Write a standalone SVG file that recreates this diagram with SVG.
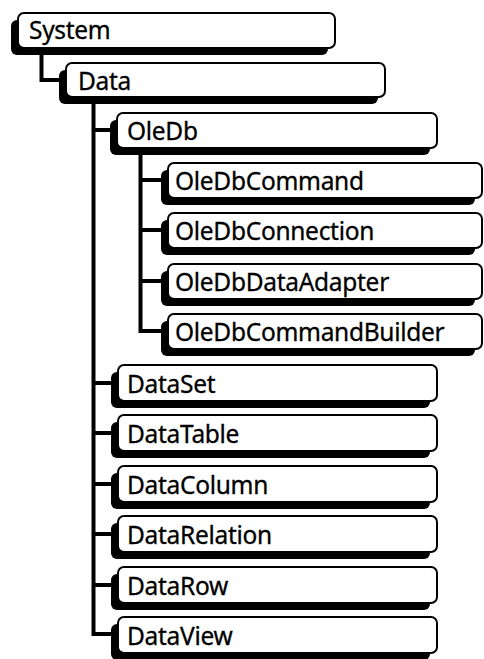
<svg xmlns="http://www.w3.org/2000/svg" width="484" height="659" viewBox="0 0 484 659">
  <style>
    .shadow { fill: #000; }
    .box { fill: #fff; stroke: #000; stroke-width: 2; }
    .label { font-family: "Noto Sans", "DejaVu Sans", sans-serif; font-size: 24.5px; letter-spacing: -0.3px; fill: #000; stroke: #000; stroke-width: 0.3; }
    .wire { fill: none; stroke: #000; stroke-width: 4; stroke-linejoin: miter; stroke-linecap: square; }
  </style>

  <rect width="484" height="659" fill="#fff"/>

  <!-- tree connectors -->
  <g id="connectors">
    <path class="wire" d="M41.5 48 V80 H64"/>
    <path class="wire" d="M93.5 97 V634 M93.5 130 H115 M93.5 383 H116 M93.5 433 H116 M93.5 484 H116 M93.5 534 H116 M93.5 585 H116 M93.5 634 H116"/>
    <path class="wire" d="M140.5 148 V331 M140.5 180 H166 M140.5 230 H166 M140.5 281 H166 M140.5 331 H166"/>
  </g>

  <g id="system">
    <rect class="shadow" x="11" y="20" width="317" height="35" rx="6"/>
    <rect class="box" x="18" y="13" width="317" height="35" rx="6"/>
    <text class="label" x="29" y="39">System</text>
  </g>
  <g id="data">
    <rect class="shadow" x="59" y="70" width="319" height="34" rx="6"/>
    <rect class="box" x="66" y="63" width="319" height="34" rx="6"/>
    <text class="label" x="78" y="90">Data</text>
  </g>
  <g id="oledb">
    <rect class="shadow" x="110" y="120" width="320" height="35" rx="6"/>
    <rect class="box" x="117" y="113" width="320" height="35" rx="6"/>
    <text class="label" x="127" y="140">OleDb</text>
  </g>
  <g id="oledbcommand">
    <rect class="shadow" x="161" y="170" width="314" height="35" rx="6"/>
    <rect class="box" x="168" y="163" width="314" height="35" rx="6"/>
    <text class="label" x="175" y="190">OleDbCommand</text>
  </g>
  <g id="oledbconnection">
    <rect class="shadow" x="161" y="220" width="314" height="35" rx="6"/>
    <rect class="box" x="168" y="213" width="314" height="35" rx="6"/>
    <text class="label" x="175" y="240">OleDbConnection</text>
  </g>
  <g id="oledbdataadapter">
    <rect class="shadow" x="161" y="271" width="314" height="35" rx="6"/>
    <rect class="box" x="168" y="264" width="314" height="35" rx="6"/>
    <text class="label" x="175" y="291">OleDbDataAdapter</text>
  </g>
  <g id="oledbcommandbuilder">
    <rect class="shadow" x="161" y="321" width="314" height="35" rx="6"/>
    <rect class="box" x="168" y="314" width="314" height="35" rx="6"/>
    <text class="label" x="175" y="341">OleDbCommandBuilder</text>
  </g>
  <g id="dataset">
    <rect class="shadow" x="111" y="372" width="319" height="36" rx="6"/>
    <rect class="box" x="118" y="365" width="319" height="36" rx="6"/>
    <text class="label" x="127" y="392.5">DataSet</text>
  </g>
  <g id="datatable">
    <rect class="shadow" x="111" y="422" width="319" height="36" rx="6"/>
    <rect class="box" x="118" y="415" width="319" height="36" rx="6"/>
    <text class="label" x="127" y="442.5">DataTable</text>
  </g>
  <g id="datacolumn">
    <rect class="shadow" x="111" y="473" width="319" height="36" rx="6"/>
    <rect class="box" x="118" y="466" width="319" height="36" rx="6"/>
    <text class="label" x="127" y="493.5">DataColumn</text>
  </g>
  <g id="datarelation">
    <rect class="shadow" x="111" y="523" width="319" height="36" rx="6"/>
    <rect class="box" x="118" y="516" width="319" height="36" rx="6"/>
    <text class="label" x="127" y="543.5">DataRelation</text>
  </g>
  <g id="datarow">
    <rect class="shadow" x="111" y="574" width="319" height="36" rx="6"/>
    <rect class="box" x="118" y="567" width="319" height="36" rx="6"/>
    <text class="label" x="127" y="594.5">DataRow</text>
  </g>
  <g id="dataview">
    <rect class="shadow" x="111" y="624" width="319" height="36" rx="6"/>
    <rect class="box" x="118" y="617" width="319" height="36" rx="6"/>
    <text class="label" x="127" y="644.5">DataView</text>
  </g>
</svg>
